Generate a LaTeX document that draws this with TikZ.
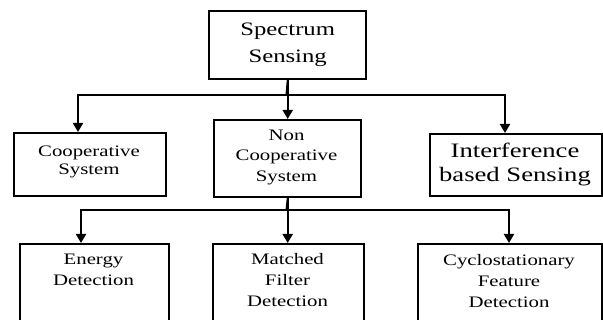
\documentclass[tikz,border=0pt]{standalone}
\usepackage{fontspec}
\setmainfont[FakeStretch=1.3]{Liberation Serif}
\usetikzlibrary{arrows.meta}
\begin{document}
\begin{tikzpicture}[x=1pt,y=-1pt,
 boxst/.style={draw, line width=2.4pt, inner sep=0pt, anchor=north west},
 arr/.style={line width=2pt, -{Triangle[width=10pt,length=9pt]}},
 ln/.style={line width=2pt},
 txt/.style={align=center, inner sep=0pt, font=\fontsize{16}{19}\selectfont},
]
\useasboundingbox (0,0) rectangle (603,320);
\clip (0,0) rectangle (603,320);
% boxes
\node[boxst, minimum width=157, minimum height=68] (top) at (208,10) {};
\node[boxst, minimum width=152, minimum height=63] (coop) at (13,132) {};
\node[boxst, minimum width=147, minimum height=77] (noncoop) at (213,119) {};
\node[boxst, minimum width=172, minimum height=62] (inter) at (429,133) {};
\node[boxst, minimum width=149, minimum height=100] (energy) at (19,243) {};
\node[boxst, minimum width=151, minimum height=100] (matched) at (212,243) {};
\node[boxst, minimum width=184, minimum height=100] (cyclo) at (417,243) {};
% texts
\node[txt, font=\fontsize{19}{27}\selectfont] (tspec) at (top.center) {Spectrum\\Sensing};
\node[txt, font=\fontsize{16}{18}\selectfont] (tcoop) at (89,162) {Cooperative\\System};
\node[txt, font=\fontsize{16}{20.5}\selectfont] (tnon) at (286.5,157) {Non\\Cooperative\\System};
\node[txt, font=\fontsize{20.5}{24}\selectfont] (tinter) at (515,164) {Interference\\based Sensing};
\node[txt, font=\fontsize{16}{21}\selectfont] (tenergy) at (93.5,270) {Energy\\Detection};
\node[txt, font=\fontsize{16}{21}\selectfont] (tmatched) at (287.5,280.5) {Matched\\Filter\\Detection};
\node[txt, font=\fontsize{16}{21}\selectfont] (tcyclo) at (509,281) {Cyclostationary\\Feature\\Detection};
% connectors level 1
\coordinate (j1) at (286.5,95);
\draw[ln] (top.south) -- (j1);
\draw[arr] (j1) -| ([xshift=65pt]coop.north west);
\draw[arr] (j1) -| ([xshift=76pt]inter.north west);
\draw[arr] (top.south) -- (noncoop.north);
% connectors level 2
\coordinate (j2) at (286.5,210);
\draw[ln] (noncoop.south) -- (j2);
\draw[arr] (j2) -| ([xshift=62pt]energy.north west);
\draw[arr] (j2) -| ([xshift=92pt]cyclo.north west);
\draw[arr] (noncoop.south) -- (matched.north -| noncoop.south);
\end{tikzpicture}
\end{document}
